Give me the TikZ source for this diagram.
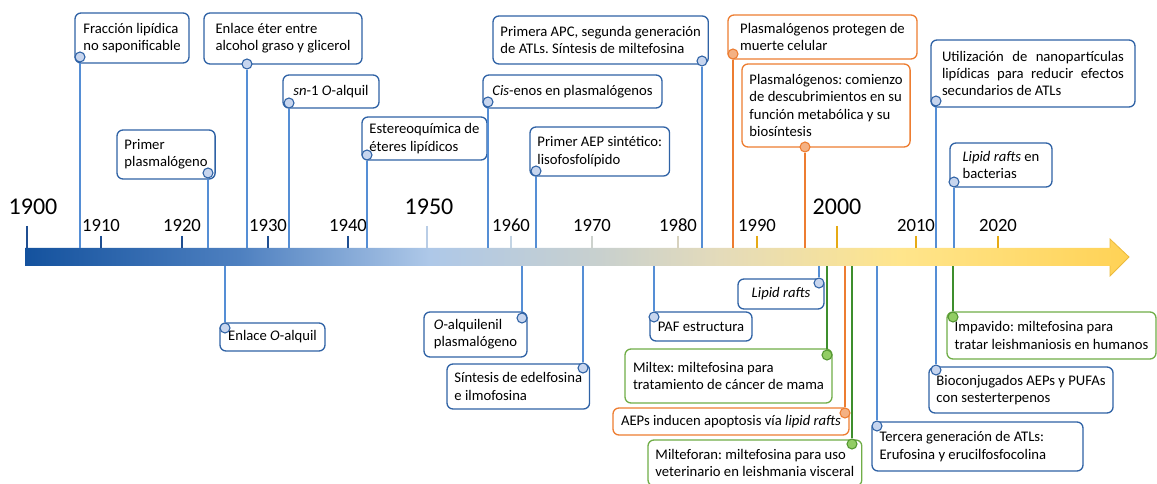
\documentclass[tikz,border=0pt]{standalone}
\usepackage{fontspec}
\setmainfont{Carlito}
\usepackage{tikz}
\frenchspacing
% event colours
\definecolor{evblue}{RGB}{47,98,165}
\definecolor{evbluedot}{RGB}{47,98,165}
\definecolor{evbluefill}{RGB}{199,213,238}
\definecolor{evblueline}{RGB}{85,142,213}
\definecolor{evorange}{RGB}{237,125,49}
\definecolor{evorangedot}{RGB}{237,125,49}
\definecolor{evorangefill}{RGB}{244,177,131}
\definecolor{evorangeline}{RGB}{237,125,49}
\definecolor{evgreen}{RGB}{112,173,71}
\definecolor{evgreendot}{RGB}{84,150,50}
\definecolor{evgreenfill}{RGB}{146,205,100}
\definecolor{evgreenline}{RGB}{62,142,45}
% time bar colours
\definecolor{bar0}{RGB}{20,82,158}
\definecolor{barA}{RGB}{78,128,192}
\definecolor{bar1}{RGB}{174,200,232}
\definecolor{bar2}{RGB}{200,208,206}
\definecolor{bar3}{RGB}{228,219,186}
\definecolor{bar4}{RGB}{255,229,140}
\definecolor{bar5}{RGB}{255,210,85}
\definecolor{bargold}{RGB}{236,186,60}
\definecolor{tkblue}{RGB}{31,78,145}
\definecolor{tk50}{RGB}{185,205,230}
\definecolor{tk60}{RGB}{195,212,228}
\definecolor{tk70}{RGB}{205,210,205}
\definecolor{tk80}{RGB}{215,210,190}
\definecolor{tkgold}{RGB}{230,170,20}
\pgfdeclarehorizontalshading{timebar}{100bp}{color(0bp)=(bar0); color(25bp)=(bar0); color(34.7bp)=(barA); color(43.3bp)=(bar1); color(51bp)=(bar2); color(56.5bp)=(bar3); color(64.6bp)=(bar4); color(75bp)=(bar5); color(100bp)=(bar5)}
\tikzset{
  evbox/.style={draw=ev#1, fill=white, line width=1pt, rounded corners=4.5pt,
    align=left, inner xsep=5.6pt, inner ysep=2pt, outer sep=0pt,
    font=\fontsize{11}{13}\selectfont},
  evdot/.style={circle, draw=ev#1dot, fill=ev#1fill, line width=0.8pt,
    minimum size=7.5pt, inner sep=0pt},
  evline/.style={draw=ev#1line, line width=1.1pt},
  yeartick/.style={line width=2pt},
  yearsmall/.style={anchor=base, inner sep=0pt, font=\fontsize{14}{16}\selectfont},
  yearbig/.style={anchor=base, inner sep=0pt, font=\fontsize{18}{20}\selectfont},
}
% [options]{name}{colour}{box corner}{width}{height}{dot}{text}
\newcommand{\eventbox}[8][]{
  \node[evbox=#3, anchor=north west, minimum width=#5*0.75pt,
    minimum height=#6*0.75pt, #1] (#2) at (#4) {#8};
  \node[evdot=#3] (#2-dot) at (#7) {};
}

\begin{document}
\begin{tikzpicture}[x=0.75pt, y=-0.75pt]
\useasboundingbox (0,0) rectangle (1157,484);
\coordinate (bartop) at (0,248);
\coordinate (barbot) at (0,266);

% time bar
\shade[shading=timebar] (25,248) -- (1110,248) -- (1110,239) -- (1129,257)
  -- (1110,276) -- (1110,266) -- (25,266) -- cycle;
\draw[draw=bargold, line width=0.6pt] (1110,248) -- (1110,239) -- (1129,257)
  -- (1110,276) -- (1110,266);

% decades
\foreach \yr/\xx/\cl in {1910/101/tkblue, 1920/182/tkblue, 1930/268/tkblue,
    1940/348/tkblue, 1960/511/tk60, 1970/592/tk70, 1980/678/tk80,
    1990/757/tkgold, 2010/916/tkgold, 2020/998/tkgold}{
  \draw[yeartick, draw=\cl] (\xx,236) -- (\xx,248);
  \node[yearsmall] (y\yr) at (\xx,232) {\yr};
}
\foreach \yr/\xx/\lx/\cl in {1900/27/33/tkblue, 1950/427/429/tk50, 2000/837/837/tkgold}{
  \draw[yeartick, draw=\cl] (\xx,226) -- (\xx,248);
  \node[yearbig] (y\yr) at (\lx,215) {\yr};
}

% events above the bar
\eventbox{fraccion}{blue}{75,13}{114}{50}{80,57}{Fracción lipídica\\no saponificable}
\eventbox{primerplasm}{blue}{117,130}{95}{49}{208,173}{Primer\\plasmalógeno}
\eventbox{enlaceeter}{blue}{204,13}{158}{51}{247,64}{Enlace éter entre\\alcohol graso y glicerol}
\eventbox{snalquil}{blue}{283,75}{96}{33}{289,103}{\textit{sn}-1 \textit{O}-alquil}
\eventbox{estereo}{blue}{362,117}{121}{43}{367,155}{Estereoquímica de\\éteres lipídicos}
\eventbox{primeraapc}{blue}{493,16}{214}{48}{702,61}{Primera APC, segunda generación\\de ATLs. Síntesis de miltefosina}
\eventbox{cisenos}{blue}{483,75}{179}{33}{488,102}{\textit{Cis}-enos en plasmalógenos}
\eventbox{primeraep}{blue}{530,127}{139}{49}{536,171}{Primer AEP sintético:\\lisofosfolípido}
\eventbox{protegen}{orange}{728,15}{189}{44}{733,54}{Plasmalógenos protegen de\\muerte celular}
\eventbox{comienzo}{orange}{742,64}{163}{83}{805,147}{Plasmalógenos: comienzo\\de descubrimientos en su\\función metabólica y su\\biosíntesis}
\eventbox{nanopart}{blue}{931,40}{204}{67}{936,101}{\makebox[136.5pt][s]{Utilización de nanopartículas}\\\makebox[136.5pt][s]{lipídicas para reducir efectos}\\secundarios de ATLs}
\eventbox{raftsbact}{blue}{950,143}{102}{44}{954,182}{\textit{Lipid rafts} en\\bacterias}

% events below the bar
\eventbox{enlacealq}{blue}{220,323}{105}{28}{225,328}{Enlace \textit{O}-alquil}
\eventbox{alquilenil}{blue}{424,312}{103}{45}{522,318}{\textit{O}-alquilenil\\plasmalógeno}
\eventbox{edelfosina}{blue}{447,364}{141}{45}{583,368}{Síntesis de edelfosina\\e ilmofosina}
\eventbox{paf}{blue}{650,312}{102}{29}{654,317}{PAF estructura}
\eventbox{rafts}{blue}{738,279}{86}{30}{819,283}{\textit{Lipid rafts}}
\eventbox{miltex}{green}{625,349}{207}{54}{827,355}{Miltex: miltefosina para\\tratamiento de cáncer de mama}
\eventbox{apoptosis}{orange}{613,408}{236}{27}{845,413}{AEPs inducen apoptosis vía \textit{lipid rafts}}
\eventbox{milteforan}{green}{648,440}{210}{46}{852,444}{Milteforan: miltefosina para uso\\veterinario en leishmania visceral}
\eventbox[text width=147pt, align=flush left]{tercera}{blue}{872,422}{211}{49}{877,426}{Tercera generación de ATLs:\\Erufosina y erucilfosfocolina}
\eventbox{bioconj}{blue}{929,367}{182}{46}{936,370}{Bioconjugados AEPs y PUFAs\\con sesterterpenos}
\eventbox{impavido}{green}{947,312}{209}{47}{953,317}{Impavido: miltefosina para\\tratar leishmaniosis en humanos}

% connectors
\foreach \ev/\cl in {fraccion/blue, primerplasm/blue, enlaceeter/blue, snalquil/blue,
    estereo/blue, primeraapc/blue, cisenos/blue, primeraep/blue, protegen/orange,
    comienzo/orange, nanopart/blue, raftsbact/blue}
  \draw[evline=\cl] (\ev-dot) -- (\ev-dot |- bartop);
\foreach \ev/\cl in {enlacealq/blue, alquilenil/blue, edelfosina/blue, paf/blue,
    rafts/blue, miltex/green, apoptosis/orange, milteforan/green, tercera/blue,
    bioconj/blue, impavido/green}
  \draw[evline=\cl] (\ev-dot) -- (\ev-dot |- barbot);
\end{tikzpicture}
\end{document}
